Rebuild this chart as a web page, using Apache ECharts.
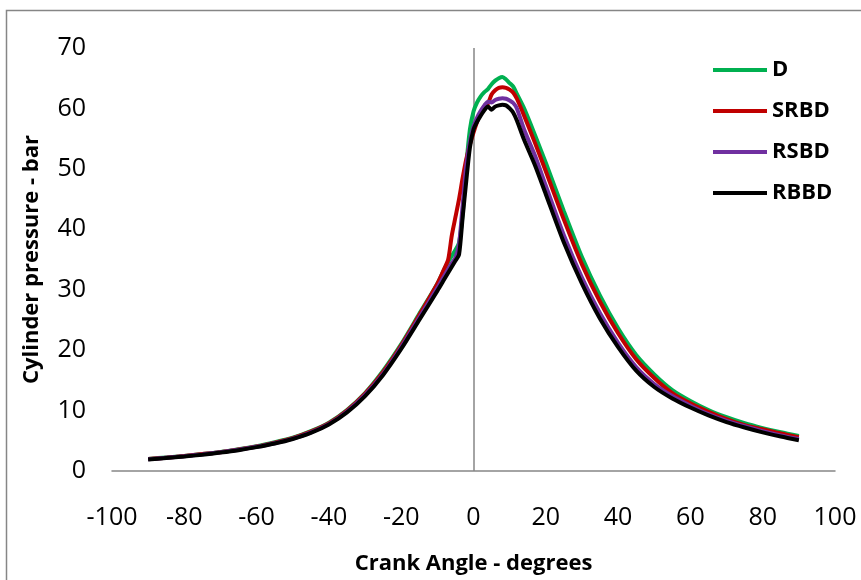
<!DOCTYPE html>
<html>
<head>
<meta charset="utf-8">
<script src="https://cdn.jsdelivr.net/npm/echarts@6/dist/echarts.min.js"></script>
<style>html,body{margin:0;padding:0;background:#fff}#c{width:861px;height:580px}</style>
</head>
<body>
<div id="c"></div>
<script>
const angles = [-90,-85,-80,-75,-70,-65,-60,-55,-50,-45,-40,-35,-30,-25,-20,-15,-10,-8,-7,-6,-5,-4,-3,-2,-1,0,1,2,3,4,5,6,7,8,9,10,11,12,14,17,20,25,30,35,40,45,50,55,60,65,70,75,80,85,90];
const D    = [2.0,2.25,2.5,2.8,3.15,3.6,4.1,4.75,5.5,6.6,8.0,10.1,12.9,16.6,21.0,26.0,31.0,33.5,34.6,35.6,36.6,37.8,42.5,50.5,56.5,59.5,61.0,62.0,62.7,63.2,64.0,64.6,65.0,65.2,64.8,64.2,63.6,62.4,60.0,55.6,51.0,43.0,35.4,29.0,23.6,19.2,16.0,13.4,11.6,10.1,8.9,7.9,7.1,6.4,5.8];
const SRBD = [2.0,2.2,2.5,2.8,3.1,3.55,4.05,4.7,5.45,6.5,7.9,10.0,12.8,16.4,20.8,25.8,31.0,33.6,35.0,39.0,42.0,45.0,48.5,51.6,54.0,56.0,57.8,59.3,60.2,60.8,62.3,63.0,63.4,63.5,63.4,63.1,62.6,61.6,58.8,54.3,49.6,41.6,34.2,28.0,22.8,18.5,15.4,12.9,11.2,9.8,8.6,7.6,6.9,6.2,5.6];
const RSBD = [1.95,2.2,2.45,2.75,3.1,3.5,4.0,4.6,5.35,6.4,7.8,9.85,12.6,16.1,20.5,25.4,30.3,32.4,33.4,34.4,35.3,37.5,44.0,50.5,54.5,57.0,58.5,59.6,60.5,61.1,61.0,61.4,61.6,61.7,61.6,61.3,60.9,60.0,56.5,52.2,47.2,39.0,32.0,26.1,21.2,17.2,14.4,12.4,10.8,9.4,8.3,7.4,6.6,5.9,5.3];
const RBBD = [1.9,2.15,2.4,2.7,3.05,3.45,3.95,4.55,5.3,6.3,7.7,9.7,12.4,15.9,20.2,25.0,29.8,31.8,32.8,33.8,34.8,35.8,42.0,48.0,53.5,56.5,57.8,58.8,59.7,60.3,59.8,60.3,60.5,60.6,60.5,60.0,59.3,58.0,54.8,50.6,45.8,37.8,31.0,25.2,20.5,16.6,13.9,12.0,10.5,9.2,8.1,7.2,6.4,5.7,5.1];
const seriesNames = ['D','SRBD','RSBD','RBBD'];
const seriesColors = ['#00B050','#C00000','#7030A0','#000000'];
const xTicks = [-100,-80,-60,-40,-20,0,20,40,60,80,100];
const yTicks = [0,10,20,30,40,50,60,70];

const values = [D, SRBD, RSBD, RBBD];
const FONT = 'Open Sans';
const chart = echarts.init(document.getElementById('c'), null, {renderer:'canvas'});
chart.setOption({
  animation:false,
  backgroundColor:'#fff',
  grid:{left:112,right:26,top:48,bottom:107},
  graphic:[{type:'rect',shape:{x:6.5,y:10.5,width:900,height:620},style:{fill:null,stroke:'#868686',lineWidth:1.5},silent:true,z:-1}],
  legend:{
    orient:'vertical', left:708, top:54, itemWidth:54, itemHeight:4, itemGap:19,
    icon:'rect',
    textStyle:{fontFamily:FONT,fontWeight:'bold',fontSize:22,color:'#000'},
    data:seriesNames
  },
  xAxis:{
    type:'value', min:xTicks[0], max:xTicks[xTicks.length-1], interval:20,
    name:'Crank Angle - degrees', nameLocation:'middle', nameGap:82,
    nameTextStyle:{fontFamily:FONT,fontWeight:'bold',fontSize:22,color:'#000'},
    axisLine:{onZero:false,lineStyle:{color:'#868686',width:1.5}},
    axisTick:{show:false}, splitLine:{show:false},
    axisLabel:{fontFamily:FONT,fontSize:25,color:'#000',margin:34}
  },
  yAxis:{
    type:'value', min:yTicks[0], max:yTicks[yTicks.length-1], interval:10,
    name:'Cylinder pressure - bar', nameLocation:'middle', nameGap:69,
    nameTextStyle:{fontFamily:FONT,fontWeight:'bold',fontSize:22,color:'#000'},
    axisLine:{show:false}, axisTick:{show:false}, splitLine:{show:false},
    axisLabel:{fontFamily:FONT,fontSize:25,color:'#000',margin:26}
  },
  series: seriesNames.map((n,i)=>({
    name:n, type:'line', symbol:'none', smooth:0.25,
    color:seriesColors[i],
    lineStyle:{width:4,color:seriesColors[i]},
    data: angles.map((a,j)=>[a, values[i][j]]),
    z: 2+i,
    markLine: i===0 ? {silent:true,symbol:'none',label:{show:false},lineStyle:{color:'#868686',width:1.5,type:'solid'},data:[{xAxis:0}], z:1} : undefined
  }))
});
</script>
</body>
</html>
